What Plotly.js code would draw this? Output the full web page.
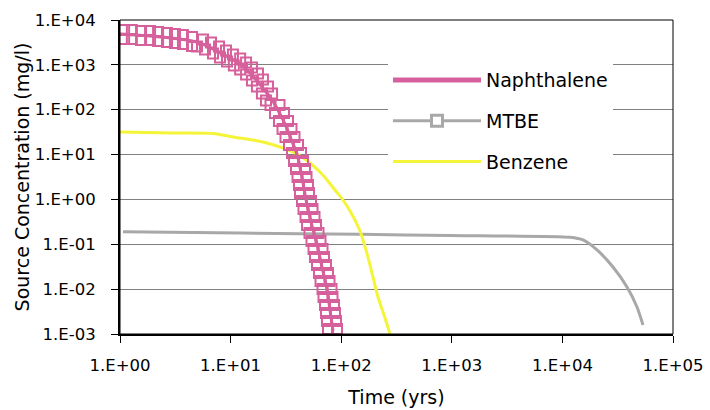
<!DOCTYPE html>
<html>
<head>
<meta charset="utf-8">
<script src="https://cdn.plot.ly/plotly-3.0.1.min.js"></script>
<style>html,body{margin:0;padding:0;background:#fff;}#chart{width:710px;height:410px;}</style>
</head>
<body>
<div id="chart"></div>
<script>
// ---- Data ----
const seriesNames = ['Naphthalene', 'MTBE', 'Benzene'];

// Naphthalene: central line
const naphLineT = [1, 1.87, 3.49, 5.29, 7.23, 9.47, 12.2, 15.6, 19.6, 23.7, 26.8, 31.0, 35.2, 39.8, 44.2, 48.1, 53.3, 60.4, 67.0, 74.4, 79.2, 84.3];
const naphLineC = [4875, 4400, 3770, 3070, 2140, 1500, 1045, 594, 305, 165, 98.6, 48.1, 22.3, 10.3, 3.16, 0.97, 0.314, 0.102, 0.0312, 0.0101, 0.00344, 0.00117];

// Naphthalene: square markers, upper band
const naphUpT = [0.92, 1.09, 1.28, 1.55, 1.87, 2.21, 2.66, 3.14, 3.71, 4.48,
  5.63, 6.65, 7.86, 9.09, 10.5, 12.2, 13.8, 15.6, 17.7, 19.6, 21.8, 23.7,
  27.68, 30.39, 33.04, 35.53, 37.82, 40.69, 43.30, 45.14, 47.08, 48.57, 50.10, 51.16, 53.33, 55.02, 57.36, 59.18, 62.34, 65.00, 67.76, 69.90, 72.88, 75.98, 78.40, 81.74, 83.46, 86.09, 87.89, 89.74, 91.62];
const naphUpC = [5985, 5985, 5985, 5690, 5690, 5410, 5130, 4880, 4635, 4180,
  3675, 3150, 2566, 2090, 1702, 1386, 1129, 873, 642, 472, 329, 230,
  127, 84.5, 56.1, 37.2, 24.7, 16.4, 10.8, 7.19, 4.77, 3.16, 2.10, 1.39, 0.923, 0.612, 0.406, 0.269, 0.179, 0.119, 0.0786, 0.0521, 0.0346, 0.0229, 0.0152, 0.0101, 0.00669, 0.00444, 0.00294, 0.00195, 0.00129];

// Naphthalene: square markers, lower band
const naphLowT = [0.92, 1.09, 1.28, 1.55, 1.87, 2.21, 2.66, 3.14, 3.71, 4.48,
  4.97, 5.87, 6.93, 8.02, 9.28, 10.7, 12.2, 13.8, 15.6, 17.3, 19.2, 20.9,
  22.95, 25.20, 27.39, 29.47, 31.36, 33.73, 35.91, 37.43, 39.02, 40.26, 41.53, 42.41, 44.21, 45.61, 47.57, 49.08, 51.69, 53.89, 56.19, 57.98, 60.42, 63.01, 65.00, 67.76, 69.18, 71.37, 72.88, 74.38, 75.98];
const naphLowC = [3770, 3770, 3770, 3580, 3580, 3405, 3235, 3070, 2920, 2630,
  2566, 2200, 1791, 1459, 1188, 967, 788, 610, 448, 329, 230, 160.5,
  127, 84.5, 56.1, 37.2, 24.7, 16.4, 10.8, 7.19, 4.77, 3.16, 2.10, 1.39, 0.923, 0.612, 0.406, 0.269, 0.179, 0.119, 0.0786, 0.0521, 0.0346, 0.0229, 0.0152, 0.0101, 0.00669, 0.00444, 0.00294, 0.00195, 0.00129];

// MTBE
const mtbeT = [1.065, 12.2, 147.9, 963, 11710, 15360, 20550, 28670, 38380, 47260, 53560];
const mtbeC = [0.191, 0.1786, 0.167, 0.157, 0.143, 0.1247, 0.0746, 0.0312, 0.01117, 0.0040, 0.00159];

// Benzene
const benzT = [1, 2.95, 6.93, 10.5, 19.6, 29.8, 39.8, 52.2, 64.3, 74.4, 87.9, 103.8, 120.1, 147.9, 165.0, 182.2, 215.1, 243.8, 276.2];
const benzC = [31.9, 30.3, 29.5, 24.7, 19.1, 14.0, 10.3, 6.49, 4.09, 2.71, 1.62, 0.971, 0.552, 0.198, 0.085, 0.0345, 0.00668, 0.00265, 0.001];

// Axis ticks
const xTickVals = [1, 10, 100, 1000, 10000, 100000];
const xTickText = ['1.E+00', '1.E+01', '1.E+02', '1.E+03', '1.E+04', '1.E+05'];
const yTickVals = [0.001, 0.01, 0.1, 1, 10, 100, 1000, 10000];
const yTickText = ['1.E-03', '1.E-02', '1.E-01', '1.E+00', '1.E+01', '1.E+02', '1.E+03', '1.E+04'];

// ---- Styles ----
const PINK = '#D6609C';
const GRAY = '#A8A8A8';
const YELLOW = '#F4F438';
const FONT = 'DejaVu Sans, Arial, sans-serif';

const traces = [
  {x: mtbeT, y: mtbeC, type: 'scatter', mode: 'lines', line: {color: GRAY, width: 3, shape: 'spline', smoothing: 0.6}, showlegend: false, legendgroup: 'm', hoverinfo: 'skip'},
  {x: benzT, y: benzC, type: 'scatter', mode: 'lines', line: {color: YELLOW, width: 3, shape: 'spline', smoothing: 0.8}, showlegend: false, legendgroup: 'b', hoverinfo: 'skip'},
  {x: naphLineT, y: naphLineC, type: 'scatter', mode: 'lines', line: {color: PINK, width: 3, shape: 'spline', smoothing: 0.6}, showlegend: false, legendgroup: 'n', hoverinfo: 'skip'},
  {x: naphUpT, y: naphUpC, type: 'scatter', mode: 'markers', cliponaxis: false, marker: {symbol: 'square-open', size: 10, color: PINK, line: {color: PINK, width: 2}}, showlegend: false, legendgroup: 'n', hoverinfo: 'skip'},
  {x: naphLowT, y: naphLowC, type: 'scatter', mode: 'markers', cliponaxis: false, marker: {symbol: 'square-open', size: 10, color: PINK, line: {color: PINK, width: 2}}, showlegend: false, legendgroup: 'n', hoverinfo: 'skip'},
  // legend entries (styled as in the reference legend)
  {x: [null], y: [null], type: 'scatter', mode: 'lines', name: seriesNames[0], legendgroup: 'n', line: {color: PINK, width: 5}},
  {x: [null], y: [null], type: 'scatter', mode: 'lines+markers', name: seriesNames[1], legendgroup: 'm', line: {color: GRAY, width: 3}, marker: {symbol: 'square', size: 11, color: '#ffffff', line: {color: GRAY, width: 3}}},
  {x: [null], y: [null], type: 'scatter', mode: 'lines', name: seriesNames[2], legendgroup: 'b', line: {color: YELLOW, width: 3}}
];

const axisCommon = {
  type: 'log',
  tickmode: 'array',
  ticks: 'outside',
  ticklen: 7,
  tickwidth: 1,
  tickcolor: '#000',
  showline: true,
  linecolor: '#000',
  linewidth: 2,
  zeroline: false,
  tickfont: {family: FONT, size: 16.5, color: '#000'}
};

const layout = {
  width: 710,
  height: 410,
  margin: {l: 120, r: 37, t: 20, b: 76, pad: 0},
  paper_bgcolor: '#fff',
  plot_bgcolor: '#fff',
  font: {family: FONT, color: '#000'},
  xaxis: Object.assign({}, axisCommon, {
    range: [0, 5],
    tickvals: xTickVals,
    ticktext: xTickText,
    showgrid: false,
    ticklabelstandoff: 8,
    title: {text: 'Time (yrs)', font: {family: FONT, size: 19, color: '#000'}, standoff: 17}
  }),
  yaxis: Object.assign({}, axisCommon, {
    range: [-3, 4],
    tickvals: yTickVals,
    ticktext: yTickText,
    showgrid: true,
    gridcolor: '#808080',
    gridwidth: 1,
    ticklabelstandoff: 12,
    title: {text: 'Source Concentration (mg/l)', font: {family: FONT, size: 19, color: '#000'}, standoff: 0}
  }),
  shapes: [{type: 'rect', xref: 'paper', yref: 'paper', x0: 0, x1: 1, y0: 0, y1: 1, line: {color: '#000', width: 1}, layer: 'above'}],
  legend: {
    x: 0.4846, y: 0.869, xanchor: 'left', yanchor: 'top',
    bgcolor: '#fff', borderwidth: 0,
    font: {family: FONT, size: 19, color: '#000'},
    itemwidth: 88,
    tracegroupgap: 13
  },
  showlegend: true
};

Plotly.newPlot('chart', traces, layout, {displayModeBar: false, staticPlot: true});
</script>
</body>
</html>
